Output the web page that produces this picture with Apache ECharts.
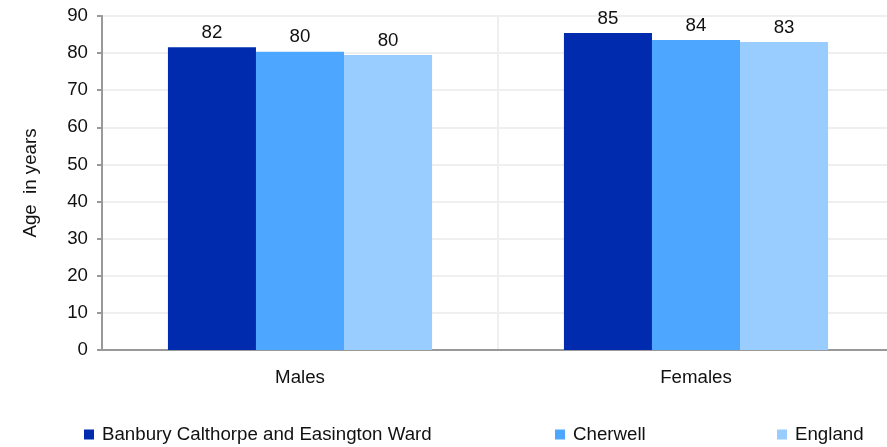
<!DOCTYPE html>
<html>
<head>
<meta charset="utf-8">
<script src="https://cdn.jsdelivr.net/npm/echarts@6/dist/echarts.min.js"></script>
<style>html,body{margin:0;padding:0;background:#fff;overflow:hidden;width:887px;height:447px;}#c{width:894px;height:447px;}</style>
</head>
<body>
<div id="c"></div>
<script>
var categories = ["Males", "Females"];
var seriesNames = ["Banbury Calthorpe and Easington Ward", "Cherwell", "England"];
var wardValues = [81.6, 85.4];
var cherwellValues = [80.4, 83.5];
var englandValues = [79.5, 83.0];
var yTicks = [0, 10, 20, 30, 40, 50, 60, 70, 80, 90];
var colors = ["#012BAE", "#4DA6FF", "#99CCFF"];

var FONT = "Liberation Sans, Arial, sans-serif";
var FS = 18.7;
var chart = echarts.init(document.getElementById('c'));
var allValues = [wardValues, cherwellValues, englandValues];
var legendLefts = [84, 555, 777];
chart.setOption({
  animation: false,
  textStyle: { fontFamily: FONT },
  grid: { left: 102, right: 0, top: 16, bottom: 97, containLabel: false },
  legend: seriesNames.map(function (n, i) {
    return {
      data: [n],
      left: legendLefts[i], top: 425, padding: 0,
      itemWidth: 10, itemHeight: 10, itemGap: 0,
      icon: 'rect',
      textStyle: { fontSize: FS, color: '#111', fontFamily: FONT, padding: [0, 0, 0, 3] }
    };
  }),
  xAxis: {
    type: 'category',
    data: categories,
    axisLine: { lineStyle: { color: '#999', width: 2 } },
    axisTick: { show: false },
    axisLabel: { fontSize: FS, color: '#111', margin: 18, fontFamily: FONT },
    splitLine: { show: true, lineStyle: { color: '#efefef', width: 2 } }
  },
  yAxis: {
    type: 'value',
    min: yTicks[0], max: yTicks[yTicks.length - 1], interval: 10,
    name: 'Age  in years',
    nameLocation: 'middle', nameGap: 62, nameRotate: 90,
    nameTextStyle: { fontSize: FS, color: '#111', fontFamily: FONT },
    axisLine: { show: true, lineStyle: { color: '#999', width: 2 } },
    axisTick: { show: true, length: 5, lineStyle: { color: '#999', width: 2 } },
    axisLabel: { fontSize: FS, color: '#111', margin: 14, fontFamily: FONT },
    splitLine: { show: true, lineStyle: { color: '#efefef', width: 2 } }
  },
  series: seriesNames.map(function (n, i) {
    return {
      name: n, type: 'bar',
      data: allValues[i],
      barGap: '0%', barCategoryGap: '33.3%',
      itemStyle: { color: colors[i] },
      label: {
        show: true, position: 'top', distance: 5,
        fontSize: FS, color: '#111', fontFamily: FONT,
        formatter: function (p) { return Math.round(p.value); }
      }
    };
  })
});
</script>
</body>
</html>
